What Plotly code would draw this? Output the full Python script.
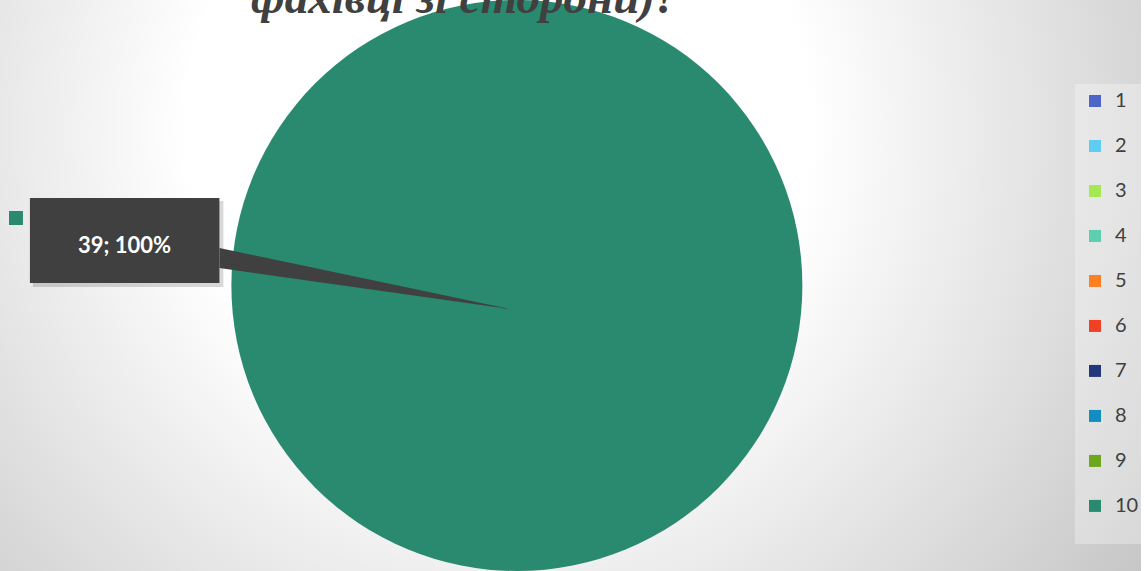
import base64
import plotly.graph_objects as go

# ---- data ----
categories = ["1", "2", "3", "4", "5", "6", "7", "8", "9", "10"]
values = [0, 0, 0, 0, 0, 0, 0, 0, 0, 39]
colors = ["#4E66C8", "#5FCCF2", "#A6E84F", "#5CCFB0", "#FF7F22",
          "#F04124", "#24377B", "#128DC0", "#6BA81C", "#298A6F"]
title_line = "фахівці зі сторони)?"

W, H = 1144, 571

total = sum(values)
main_idx = max(range(len(values)), key=lambda i: values[i])
label_text = f"{values[main_idx]}; {round(values[main_idx] / total * 100)}%"

fig = go.Figure()
fig.add_trace(go.Pie(
    labels=[f"<span style='font-size:20px'>{c}</span><br> " for c in categories],
    values=values,
    customdata=categories,
    marker=dict(colors=colors, line=dict(width=0)),
    sort=False,
    direction="clockwise",
    rotation=0,
    textinfo="none",
    hovertemplate="%{customdata}: %{value} (%{percent})<extra></extra>",
    domain=dict(x=[0.202, 0.704], y=[0.0, 1.0]),
))

# background radial gradient
svg = f"""<svg xmlns='http://www.w3.org/2000/svg' width='{W}' height='{H}'>
<defs><radialGradient id='g' cx='500' cy='130' r='800' gradientUnits='userSpaceOnUse'>
<stop offset='0' stop-color='#ffffff'/><stop offset='0.39' stop-color='#ffffff'/>
<stop offset='1' stop-color='#c4c4c4'/></radialGradient></defs>
<rect width='{W}' height='{H}' fill='url(#g)'/></svg>"""
src = "data:image/svg+xml;base64," + base64.b64encode(svg.encode()).decode()


def px(x):
    return x / W


def py(y):
    return 1 - y / H


shapes = []
# callout shadow + box
shapes.append(dict(type="rect", xref="paper", yref="paper",
                   x0=px(33), x1=px(224), y0=py(201), y1=py(287),
                   fillcolor="rgba(0,0,0,0.15)", line=dict(width=0), layer="above"))
shapes.append(dict(type="path", xref="paper", yref="paper",
                   path=f"M {px(220)} {py(248)} L {px(511)} {py(309)} L {px(220)} {py(268)} Z",
                   fillcolor="#404040", line=dict(width=0), layer="above"))
shapes.append(dict(type="rect", xref="paper", yref="paper",
                   x0=px(30), x1=px(220), y0=py(198), y1=py(283),
                   fillcolor="#404040", line=dict(width=0), layer="above"))
# legend key in label
shapes.append(dict(type="rect", xref="paper", yref="paper",
                   x0=px(9), x1=px(23), y0=py(211), y1=py(225),
                   fillcolor=colors[main_idx], line=dict(width=0), layer="above"))

annotations = [
    dict(text=label_text, x=px(125), y=py(244), xref="paper", yref="paper",
         showarrow=False, xanchor="center", yanchor="middle",
         font=dict(family="Lato, Open Sans, sans-serif", size=22, color="white", weight="bold")),
    dict(text=title_line, x=px(466), y=py(17.5), xref="paper", yref="paper",
         showarrow=False, xanchor="center", yanchor="bottom", yshift=-7,
         font=dict(family="Liberation Serif, serif", size=47, color="#404040",
                   weight="bold", style="italic")),
]

fig.update_layout(
    width=W, height=H,
    margin=dict(l=0, r=0, t=0, b=0),
    paper_bgcolor="#ffffff",
    images=[dict(source=src, xref="paper", yref="paper", x=0, y=1,
                 sizex=1, sizey=1, sizing="stretch", xanchor="left",
                 yanchor="top", layer="below")],
    shapes=shapes,
    annotations=annotations,
    showlegend=True,
    legend=dict(x=1.003, xanchor="right", y=py(84), yanchor="top",
                valign="top",
                bgcolor="rgba(255,255,255,0.3)",
                font=dict(family="Lato, Open Sans, sans-serif", size=16.15, color="#404040"),
                traceorder="normal"),
)

fig.write_html("out.html", config={"displayModeBar": False},
               post_script="document.body.style.margin='0';")
